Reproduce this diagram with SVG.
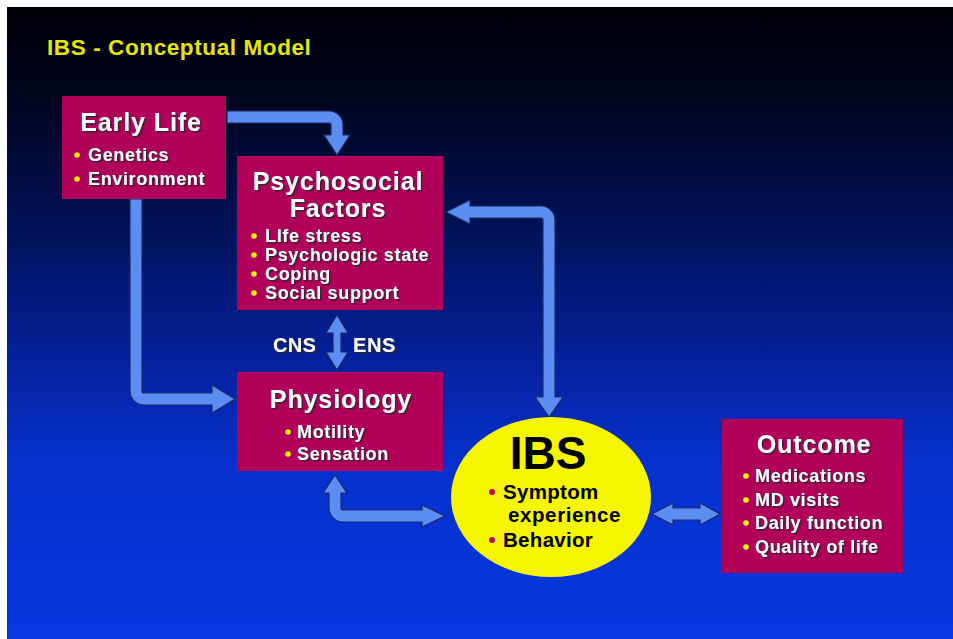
<svg xmlns="http://www.w3.org/2000/svg" width="953" height="639" viewBox="0 0 953 639">
<defs>
<linearGradient id="bg" x1="0" y1="0" x2="0" y2="1">
<stop offset="0" stop-color="#000008"/>
<stop offset="0.15" stop-color="#000520"/>
<stop offset="0.35" stop-color="#001258"/>
<stop offset="0.55" stop-color="#05209a"/>
<stop offset="0.72" stop-color="#0630cc"/>
<stop offset="1" stop-color="#0638e0"/>
</linearGradient>
<filter id="sh" x="-10%" y="-20%" width="130%" height="150%">
<feDropShadow dx="1.5" dy="1.5" stdDeviation="0.6" flood-color="#2a2a2a" flood-opacity="0.9"/>
</filter>
</defs>
<style>
.box{fill:#b0005a}
.arrow{fill:#5b8df2;stroke:#1c2a66;stroke-width:1.2;stroke-linejoin:miter}
.t{font-family:"Liberation Sans",Arial,sans-serif;font-weight:bold;fill:#ffffff;filter:url(#sh)}
.h{font-size:25px;text-anchor:middle;letter-spacing:0.9px}
.b{font-size:18px;letter-spacing:0.65px}
.yb{fill:#f2f200}
.k{font-family:"Liberation Sans",Arial,sans-serif;font-weight:bold;fill:#000000}
</style>
<rect x="0" y="0" width="953" height="639" fill="#ffffff"/>
<rect x="7" y="7" width="946" height="632" fill="url(#bg)"/>
<text x="47" y="55" font-family="Liberation Sans, Arial, sans-serif" font-weight="bold" font-size="22.5" letter-spacing="0.6" fill="#e6e600">IBS - Conceptual Model</text>

<g id="connectors">
<path class="arrow" d="M227,111 H329 A14,14 0 0 1 343,125 V135 H350 L337,155 L324,135 H331 V125 A2,2 0 0 0 329,123 H227 Z"/>
<path class="arrow" d="M130,199 V391 A14,14 0 0 0 144,405 H212 V413 L235,399 L212,385 V393 H144 A2,2 0 0 1 142,391 V199 Z"/>
<path class="arrow" d="M446,212 L470,200 V206 H541 A14,14 0 0 1 555,220 V397 H563 L549,417 L535,397 H543 V220 A2,2 0 0 0 541,218 H470 V224 Z"/>
<path class="arrow" d="M337,315 L348,333 H341 V352 H348 L337,370 L326,352 H333 V333 H326 Z"/>
<path class="arrow" d="M335,475 L347,493 H341 V508 A2,2 0 0 0 343,510 H422 V505 L445,516 L422,527 V522 H343 A14,14 0 0 1 329,508 V493 H323 Z"/>
<path class="arrow" d="M652,514 L673,503 V508 H700 V503 L720,514 L700,525 V520 H673 V525 Z"/>
<text class="t" x="273" y="352" font-size="20" letter-spacing="0.3">CNS</text>
<text class="t" x="353" y="352" font-size="20" letter-spacing="0.6">ENS</text>
</g>

<g id="early-life">
<rect class="box" x="62" y="96" width="164" height="103"/>
<text class="t h" x="141" y="131">Early Life</text>
<circle class="yb" cx="77" cy="155" r="2.8"/>
<text class="t b" x="88" y="161">Genetics</text>
<circle class="yb" cx="77" cy="179" r="2.8"/>
<text class="t b" x="88" y="185">Environment</text>
</g>

<g id="psychosocial">
<rect class="box" x="237" y="156" width="206" height="154"/>
<text class="t h" x="338" y="190" font-size="24">Psychosocial</text>
<text class="t h" x="338" y="217" font-size="24">Factors</text>
<circle class="yb" cx="254" cy="236" r="2.8"/>
<text class="t b" x="265" y="242">LIfe stress</text>
<circle class="yb" cx="254" cy="255" r="2.8"/>
<text class="t b" x="265" y="261">Psychologic state</text>
<circle class="yb" cx="254" cy="274" r="2.8"/>
<text class="t b" x="265" y="280">Coping</text>
<circle class="yb" cx="254" cy="293" r="2.8"/>
<text class="t b" x="265" y="299">Social support</text>
</g>

<g id="physiology">
<rect class="box" x="237" y="372" width="206" height="99"/>
<text class="t h" x="341" y="408">Physiology</text>
<circle class="yb" cx="288" cy="432" r="2.8"/>
<text class="t b" x="297" y="438">Motility</text>
<circle class="yb" cx="288" cy="454" r="2.8"/>
<text class="t b" x="297" y="460">Sensation</text>
</g>

<g id="ibs">
<ellipse cx="551" cy="497" rx="100" ry="80" fill="#f5f500"/>
<text class="k" x="548" y="469" font-size="46" text-anchor="middle">IBS</text>
<circle cx="492" cy="492" r="3" fill="#c0005e"/>
<text class="k" x="503" y="499" font-size="20.5" letter-spacing="0.3">Symptom</text>
<text class="k" x="508" y="522" font-size="20.5" letter-spacing="0.6">experience</text>
<circle cx="492" cy="540" r="3" fill="#c0005e"/>
<text class="k" x="503" y="547" font-size="20.5" letter-spacing="0.3">Behavior</text>
</g>

<g id="outcome">
<rect class="box" x="722" y="419" width="181" height="154"/>
<text class="t h" x="814" y="453" letter-spacing="1.3">Outcome</text>
<circle class="yb" cx="746" cy="476" r="2.8"/>
<text class="t b" x="755" y="482">Medications</text>
<circle class="yb" cx="746" cy="500" r="2.8"/>
<text class="t b" x="755" y="506">MD visits</text>
<circle class="yb" cx="746" cy="523" r="2.8"/>
<text class="t b" x="755" y="529">Daily function</text>
<circle class="yb" cx="746" cy="547" r="2.8"/>
<text class="t b" x="755" y="553">Quality of life</text>
</g>
</svg>
